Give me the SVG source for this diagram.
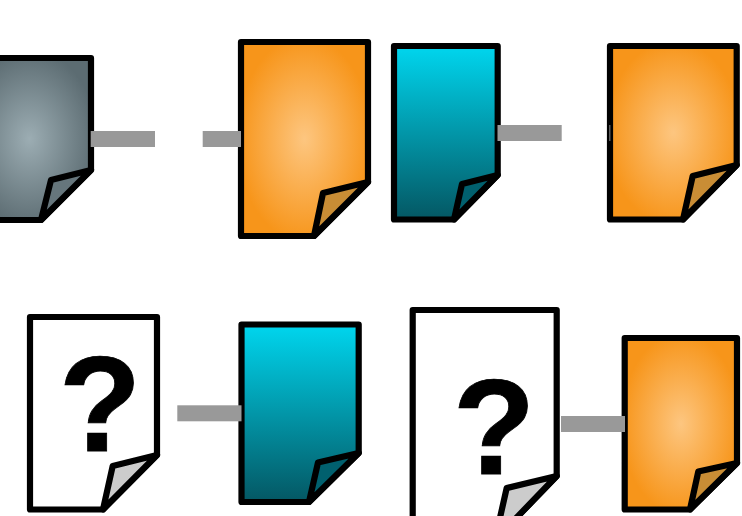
<svg xmlns="http://www.w3.org/2000/svg" width="742" height="516" viewBox="0 0 742 516">
<style>
.doc{stroke:#000;stroke-width:6.2;stroke-linejoin:round}
.fold{stroke:#000;stroke-width:6.2;stroke-linejoin:round}
.orange{fill:url(#gO)}.teal{fill:url(#gT)}.grey{fill:url(#gG)}.blank{fill:#fff}
.fO{fill:#c98d35}.fT{fill:#01606e}.fG{fill:#66767c}.fW{fill:#ccc}
.q{font-family:"Liberation Sans",Arial,sans-serif;font-weight:700;font-size:135px;text-anchor:middle;fill:#000;stroke:#000;stroke-width:0.8}
.conn{fill:#999}
</style>
<defs>
<radialGradient id="gO" cx="0.5" cy="0.5" r="0.53"><stop offset="0" stop-color="#fdc680"/><stop offset="1" stop-color="#f7951a"/></radialGradient>
<radialGradient id="gG" cx="0.5" cy="0.5" r="0.55"><stop offset="0" stop-color="#9cadb3"/><stop offset="1" stop-color="#5c6c72"/></radialGradient>
<linearGradient id="gT" x1="0" y1="0" x2="0" y2="1"><stop offset="0.03" stop-color="#00d2ea"/><stop offset="1" stop-color="#045763"/></linearGradient>
</defs>
<g id="node-grey">
<path class="doc grey" d="M-32 58H91V170L41 220H-32Z"/>
<path class="fold fG" d="M91 170L51 180L41 220Z"/>
</g>
<g id="node-orange-1">
<path class="doc orange" d="M241 42H368V182L314 236H241Z"/>
<path class="fold fO" d="M368 182L323 193L314 236Z"/>
</g>
<g id="node-teal-1">
<path class="doc teal" d="M394 46H497.700V175L454 219.500H394Z"/>
<path class="fold fT" d="M497.700 175L462 184L454 219.500Z"/>
</g>
<g id="node-orange-2">
<path class="doc orange" d="M610 46H736.700V165L683 219.500H610Z"/>
<path class="fold fO" d="M736.700 165L692.700 176L683 219.500Z"/>
</g>
<g id="node-unknown-1">
<path class="doc blank" d="M30 317H157V455L103 509.500H30Z"/>
<path class="fold fW" d="M157 455L112.700 466L103 509.500Z"/>
<text class="q" x="100" y="451">?</text>
</g>
<g id="node-teal-2">
<path class="doc teal" d="M241.500 324.500H358.700V453L309 502H241.500Z"/>
<path class="fold fT" d="M358.700 453L318 462.500L309 502Z"/>
</g>
<g id="node-unknown-2">
<path class="doc blank" d="M412.700 310H556.700V476L495 540H412.700Z"/>
<path class="fold fW" d="M556.700 476L506.700 488L495 540Z"/>
<text class="q" x="494" y="473.500">?</text>
</g>
<g id="node-orange-3">
<path class="doc orange" d="M624.700 338H737V463L690 509.500H624.700Z"/>
<path class="fold fO" d="M737 463L698.300 471.500L690 509.500Z"/>
</g>
<g id="connectors">
<rect class="conn" x="90.700" y="131" width="64.300" height="16"/>
<rect class="conn" x="202.700" y="131" width="38.300" height="16"/>
<rect class="conn" x="497.500" y="125" width="64.200" height="16"/>
<rect class="conn" x="609" y="125" width="1.500" height="16" fill-opacity="0.6"/>
<rect class="conn" x="177.300" y="405.300" width="64.200" height="16"/>
<rect class="conn" x="561" y="416" width="64" height="16"/>
</g>
</svg>
